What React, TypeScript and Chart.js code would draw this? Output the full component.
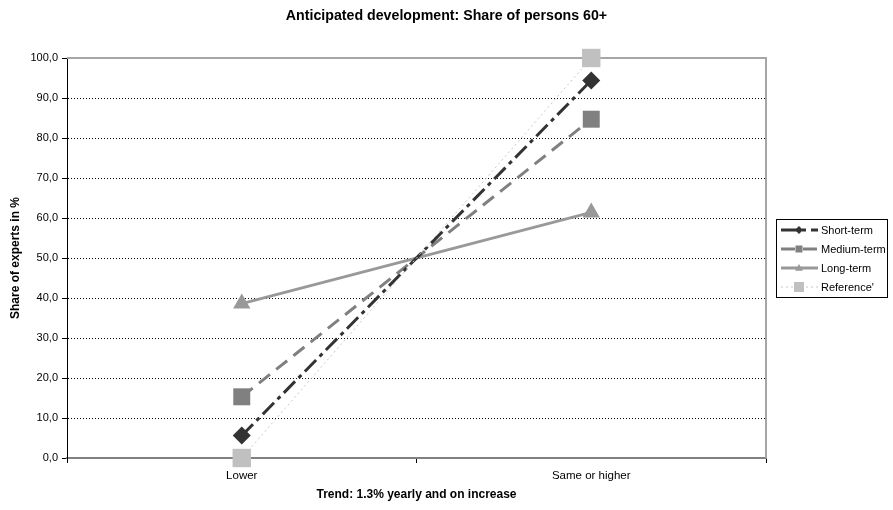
import React, { useEffect, useRef } from "react";
import { Chart, registerables } from "chart.js";

Chart.register(...registerables);

const categories = ["Lower", "Same or higher"];
const shortTerm = [5.6, 94.4];
const mediumTerm = [15.3, 84.7];
const longTerm = [38.6, 61.4];
const reference = [0, 100];
const seriesNames = ["Short-term", "Medium-term", "Long-term", "Reference'"];
const chartTitle = "Anticipated development: Share of persons 60+";

const FONT = "'Liberation Sans', Arial, sans-serif";

const frameAndLegend = {
  id: "frameAndLegend",
  beforeDatasetsDraw(chart: any) {
    const { ctx, chartArea } = chart;
    ctx.save();
    ctx.strokeStyle = "#a6a6a6";
    ctx.lineWidth = 2;
    ctx.beginPath();
    ctx.moveTo(chartArea.left, chartArea.top);
    ctx.lineTo(chartArea.right, chartArea.top);
    ctx.lineTo(chartArea.right, chartArea.bottom);
    ctx.stroke();
    ctx.restore();
  },
  afterDraw(chart: any) {
    const { ctx } = chart;
    ctx.save();
    // title
    ctx.fillStyle = "#000";
    ctx.font = `bold 14.2px ${FONT}`;
    ctx.textAlign = "center";
    ctx.textBaseline = "middle";
    ctx.fillText(chartTitle, 446.5, 16);
    // legend
    const bx = 776.5, by = 219.5, bw = 111, bh = 78;
    ctx.fillStyle = "#fff";
    ctx.fillRect(bx, by, bw, bh);
    ctx.strokeStyle = "#000";
    ctx.lineWidth = 1;
    ctx.strokeRect(bx, by, bw, bh);
    const rows = [230, 249, 268, 287];
    chart.data.datasets.forEach((ds: any, i: number) => {
      const y = rows[i];
      ctx.save();
      ctx.strokeStyle = ds.borderColor;
      ctx.lineWidth = ds.borderWidth;
      ctx.setLineDash(ds.borderDash || []);
      ctx.beginPath();
      ctx.moveTo(781, y);
      ctx.lineTo(818, y);
      ctx.stroke();
      ctx.restore();
      ctx.save();
      ctx.fillStyle = ds.pointBackgroundColor;
      const x = 799;
      ctx.beginPath();
      if (ds.pointStyle === "rectRot") {
        const r = 4;
        ctx.moveTo(x - r, y);
        ctx.lineTo(x, y - r);
        ctx.lineTo(x + r, y);
        ctx.lineTo(x, y + r);
        ctx.closePath();
      } else if (ds.pointStyle === "triangle") {
        const r = 4;
        ctx.moveTo(x, y - r);
        ctx.lineTo(x + r, y + r * 0.7);
        ctx.lineTo(x - r, y + r * 0.7);
        ctx.closePath();
      } else {
        const s = ds.label === "Reference'" ? 5 : 3.5;
        ctx.rect(x - s, y - s, 2 * s, 2 * s);
      }
      ctx.fill();
      ctx.restore();
      ctx.fillStyle = "#000";
      ctx.font = `11px ${FONT}`;
      ctx.textBaseline = "middle";
      ctx.textAlign = "left";
      ctx.fillText(ds.label, 821, y + 0.5);
    });
    ctx.restore();
  },
};

export default function App() {
  const ref = useRef<HTMLCanvasElement>(null);
  useEffect(() => {
    if (!ref.current) return;
    const chart = new Chart(ref.current, {
      type: "line",
      data: {
        labels: categories,
        datasets: [
          {
            label: seriesNames[0],
            data: shortTerm,
            borderColor: "#333333",
            backgroundColor: "#333333",
            pointBackgroundColor: "#333333",
            pointBorderColor: "#333333",
            borderWidth: 3,
            borderDash: [16, 5, 4, 5],
            pointStyle: "rectRot",
            pointRadius: 9,
            pointBorderWidth: 0,
            clip: false,
            order: 1,
          },
          {
            label: seriesNames[1],
            data: mediumTerm,
            borderColor: "#808080",
            backgroundColor: "#808080",
            pointBackgroundColor: "#808080",
            pointBorderColor: "#808080",
            borderWidth: 3,
            borderDash: [14, 8],
            pointStyle: "rect",
            pointRadius: 12,
            pointBorderWidth: 0,
            clip: false,
            order: 2,
          },
          {
            label: seriesNames[2],
            data: longTerm,
            borderColor: "#999999",
            backgroundColor: "#999999",
            pointBackgroundColor: "#999999",
            pointBorderColor: "#999999",
            borderWidth: 3,
            pointStyle: "triangle",
            pointRadius: 10,
            pointBorderWidth: 0,
            clip: false,
            order: 3,
          },
          {
            label: seriesNames[3],
            data: reference,
            borderColor: "#c8c8c8",
            backgroundColor: "#c0c0c0",
            pointBackgroundColor: "#c0c0c0",
            pointBorderColor: "#c0c0c0",
            borderWidth: 1,
            borderDash: [2, 3],
            pointStyle: "rect",
            pointRadius: 13,
            pointBorderWidth: 0,
            clip: false,
            order: 0,
          },
        ] as any,
      },
      options: {
        responsive: false,
        animation: false,
        layout: { padding: { left: 0, right: 127, top: 58, bottom: 0 } },
        plugins: {
          legend: { display: false },
          tooltip: { enabled: false },
          title: { display: false },
        },
        scales: {
          x: {
            type: "category",
            offset: true,
            afterFit: (s: any) => {
              s.height = 52;
            },
            grid: {
              offset: true,
              drawOnChartArea: false,
              drawTicks: true,
              tickLength: 5,
              tickColor: "#000",
              color: "#000",
            },
            border: { color: "#808080", width: 2 },
            ticks: {
              color: "#000",
              font: { family: FONT, size: 11.5 },
              padding: 6,
            },
            title: {
              display: true,
              text: "Trend: 1.3% yearly and on increase",
              color: "#000",
              font: { family: FONT, size: 12, weight: "bold" },
              padding: { top: 4, bottom: 8 },
            },
          },
          y: {
            min: 0,
            max: 100,
            afterFit: (s: any) => {
              s.width = 67;
            },
            ticks: {
              stepSize: 10,
              color: "#000",
              font: { family: FONT, size: 11 },
              padding: 4,
              callback: (v: any) => Number(v).toFixed(1).replace(".", ","),
            },
            grid: {
              color: (c: any) =>
                c.tick && (c.tick.value === 100 || c.tick.value === 0)
                  ? "rgba(0,0,0,0)"
                  : "#000",
              tickLength: 5,
              tickColor: "#000",
              tickBorderDash: [],
              lineWidth: 1,
            } as any,
            border: { color: "#000", width: 1, dash: [1, 2] },
            title: {
              display: true,
              text: "Share of experts in %",
              color: "#000",
              font: { family: FONT, size: 12, weight: "bold" },
              padding: { top: 8, bottom: 4 },
            },
          },
        },
      },
      plugins: [frameAndLegend],
    } as any);
    return () => chart.destroy();
  }, []);
  return (
    <div style={{ position: "absolute", left: 0, top: 0, width: 893, height: 510, background: "#fff" }}>
      <canvas ref={ref} width={893} height={510} />
    </div>
  );
}
